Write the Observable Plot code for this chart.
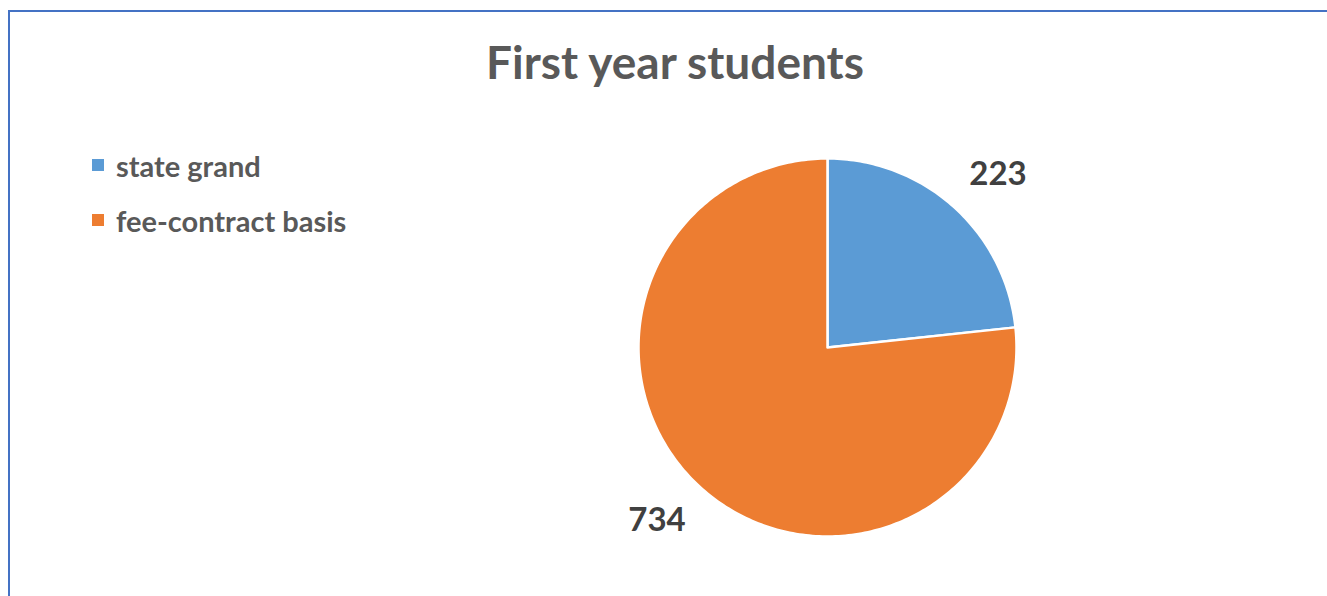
<!DOCTYPE html>
<html>
<head>
<meta charset="utf-8">
<script src="https://cdn.jsdelivr.net/npm/d3@7"></script>
<script src="https://cdn.jsdelivr.net/npm/@observablehq/plot@0.6"></script>
<style>
  html, body { margin: 0; padding: 0; background: #fff; }
  #wrap { position: relative; width: 1327px; height: 596px; overflow: hidden; font-family: Lato, "Open Sans", sans-serif; }
  #frame { position: absolute; left: 8px; top: 10px; width: 1400px; height: 700px; border-left: 2px solid #4472C4; border-top: 2px solid #4472C4; box-sizing: border-box; }
  #title { position: absolute; left: 0; width: 1350px; top: 34px; text-align: center; font-size: 46px; font-weight: 700; color: #595959; }
  #legend { position: absolute; left: 92px; top: 150px; color: #595959; font-size: 29px; font-weight: 700; }
  .item { display: flex; align-items: center; height: 30px; margin-bottom: 25px; }
  .sw { width: 12px; height: 12px; margin-right: 12px; }
  #chart { position: absolute; left: 0; top: 0; }
</style>
</head>
<body>
<div id="wrap">
  <div id="frame"></div>
  <div id="chart"></div>
  <div id="title"></div>
  <div id="legend"></div>
</div>
<script>
const title = "First year students";
const categories = ["state grand", "fee-contract basis"];
const values = [223, 734];
const colors = ["#5B9BD5", "#ED7D31"];

const pie = d3.pie().sort(null).value(d => d.value);
const slices = pie(categories.map((c, i) => ({category: c, value: values[i]})));

// Build polygon outlines of each slice in unit coordinates (angle 0 at top, clockwise)
const polyPoints = [];
slices.forEach(s => {
  const n = Math.max(4, Math.ceil((s.endAngle - s.startAngle) / (Math.PI / 180)));
  polyPoints.push({category: s.data.category, x: 0, y: 0});
  for (let k = 0; k <= n; k++) {
    const a = s.startAngle + (s.endAngle - s.startAngle) * k / n;
    polyPoints.push({category: s.data.category, x: Math.sin(a), y: Math.cos(a)});
  }
  polyPoints.push({category: s.data.category, x: 0, y: 0});
});

const labelRx = 1.35, labelRy = 1.23;
const labels = slices.map(s => {
  const a = (s.startAngle + s.endAngle) / 2;
  return {text: String(s.data.value), x: labelRx * Math.sin(a), y: labelRy * Math.cos(a)};
});

const plot = Plot.plot({
  width: 1327,
  height: 596,
  margin: 0,
  x: {domain: [-1, 1], range: [638, 1016], axis: null},
  y: {domain: [-1, 1], range: [536, 158], axis: null},
  color: {domain: categories, range: colors},
  style: {background: "transparent"},
  marks: [
    Plot.line(polyPoints, {x: "x", y: "y", z: "category", fill: "category", stroke: "white", strokeWidth: 2.5, strokeLinejoin: "round", curve: "linear"}),
    Plot.text(labels, {x: "x", y: "y", text: "text", fontSize: 33, fontWeight: "bold", fill: "#404040", fontFamily: "Lato, 'Open Sans', sans-serif"})
  ]
});
document.getElementById("chart").appendChild(plot);

document.getElementById("title").textContent = title;
const lg = document.getElementById("legend");
categories.forEach((c, i) => {
  const it = document.createElement("div");
  it.className = "item";
  const sw = document.createElement("div");
  sw.className = "sw";
  sw.style.background = colors[i];
  const tx = document.createElement("span");
  tx.textContent = c;
  it.appendChild(sw);
  it.appendChild(tx);
  lg.appendChild(it);
});
</script>
</body>
</html>
